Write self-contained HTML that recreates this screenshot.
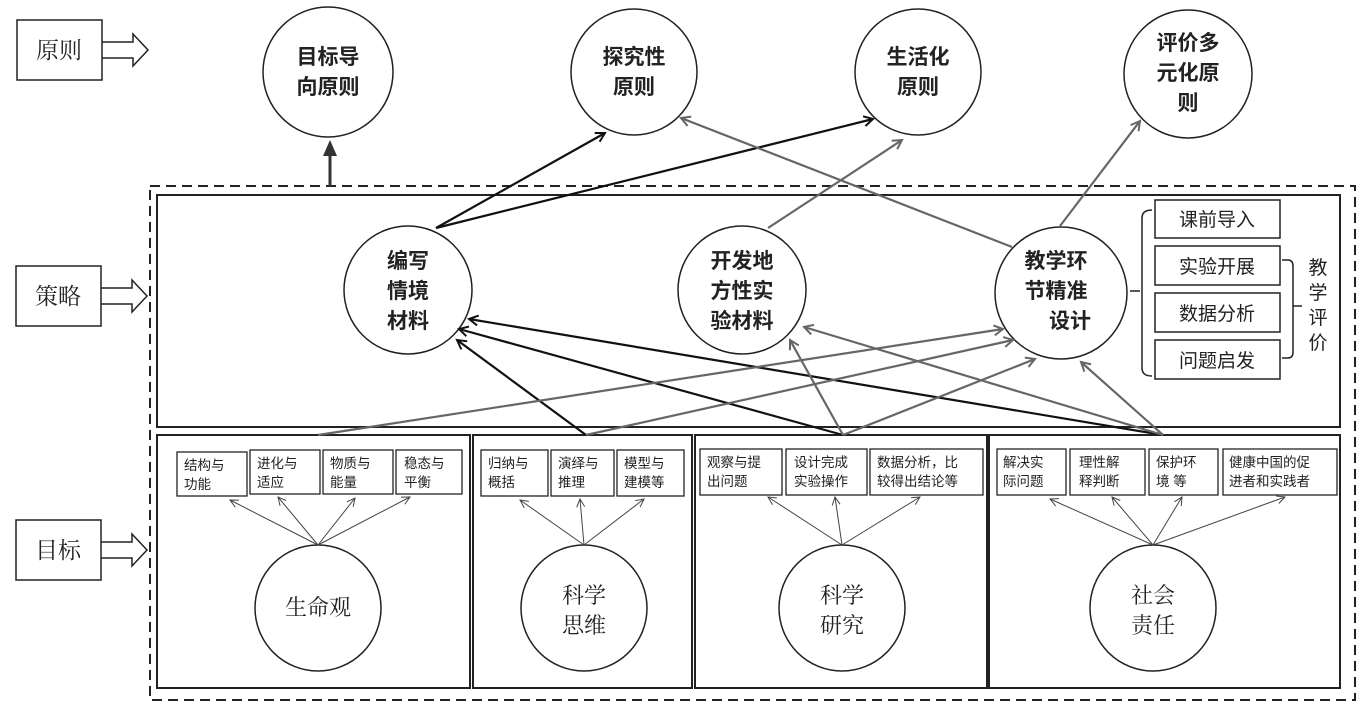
<!DOCTYPE html>
<html><head><meta charset="utf-8"><style>
html,body{margin:0;padding:0;background:#fff}
svg text{font-family:"Liberation Sans","Noto Sans CJK SC",sans-serif;fill:#222}
svg text.s{font-family:"Liberation Serif","Noto Serif CJK SC",serif}
</style></head><body>
<svg width="1362" height="708" viewBox="0 0 1362 708" xmlns="http://www.w3.org/2000/svg">
<defs>
<marker id="ad" markerWidth="12" markerHeight="12" refX="10" refY="6" orient="auto" markerUnits="userSpaceOnUse"><path d="M1,1 L10,6 L1,11" fill="none" stroke="#111" stroke-width="2"/></marker>
<marker id="ag" markerWidth="12" markerHeight="12" refX="10" refY="6" orient="auto" markerUnits="userSpaceOnUse"><path d="M1,1 L10,6 L1,11" fill="none" stroke="#666" stroke-width="2"/></marker>
<marker id="at" markerWidth="10" markerHeight="10" refX="9" refY="5" orient="auto" markerUnits="userSpaceOnUse"><path d="M1,1 L9,5 L1,9" fill="none" stroke="#444" stroke-width="1"/></marker>
</defs>
<g fill="none" stroke="#222" stroke-width="1.5">
<rect x="17" y="20" width="85" height="60"/>
<path d="M102,42 H133 V34 L148,50 L133,66 V58 H102"/>
<rect x="16" y="266" width="85" height="60"/>
<path d="M101,288 H132 V280 L147,296 L132,312 V304 H101"/>
<rect x="16" y="520" width="85" height="60"/>
<path d="M101,542 H132 V534 L147,550 L132,566 V558 H101"/>
<rect x="150" y="186" width="1205" height="514" stroke-dasharray="10,6" stroke-width="2"/>
<rect x="157" y="195" width="1183" height="232" stroke-width="2"/>
<rect x="157" y="435" width="313" height="253" stroke-width="2"/>
<rect x="473" y="435" width="219" height="253" stroke-width="2"/>
<rect x="695" y="435" width="292" height="253" stroke-width="2"/>
<rect x="989" y="435" width="351" height="253" stroke-width="2"/>
<circle cx="328" cy="72" r="65"/>
<circle cx="634" cy="72" r="63"/>
<circle cx="918" cy="72" r="63"/>
<circle cx="1188" cy="74" r="64"/>
<circle cx="408" cy="290" r="64"/>
<circle cx="742" cy="290" r="64"/>
<circle cx="1061" cy="293" r="66"/>
<rect x="1155" y="200" width="125" height="38"/>
<rect x="1155" y="246" width="125" height="39"/>
<rect x="1155" y="293" width="125" height="39"/>
<rect x="1155" y="340" width="125" height="39"/>
<path d="M1130,291 H1140 M1152,210 Q1142,210 1142,218 V368 Q1142,376 1152,376"/>
<path d="M1282,260 H1288 Q1293,260 1293,266 V352 Q1293,358 1288,358 H1282 M1293,306 H1302"/>
<circle cx="318" cy="608" r="63"/>
<circle cx="584" cy="608" r="63"/>
<circle cx="842" cy="608" r="63"/>
<circle cx="1153" cy="608" r="63"/>
</g>
<g fill="none" stroke="#222" stroke-width="1.3">
<rect x="177" y="452" width="70" height="44"/><rect x="250" y="450" width="70" height="44"/><rect x="323" y="450" width="70" height="44"/><rect x="396" y="450" width="66" height="44"/>
<rect x="481" y="450" width="67" height="46"/><rect x="551" y="450" width="63" height="46"/><rect x="617" y="450" width="67" height="46"/>
<rect x="700" y="449" width="82" height="46"/><rect x="786" y="449" width="81" height="46"/><rect x="870" y="449" width="113" height="46"/>
<rect x="997" y="449" width="69" height="46"/><rect x="1070" y="449" width="75" height="46"/><rect x="1149" y="449" width="69" height="46"/><rect x="1223" y="449" width="114" height="46"/>
</g>
<g stroke="#444" stroke-width="1" marker-end="url(#at)">
<line x1="318" y1="545" x2="230" y2="500"/><line x1="318" y1="545" x2="278" y2="497"/><line x1="318" y1="545" x2="355" y2="498"/><line x1="318" y1="545" x2="410" y2="497"/>
<line x1="584" y1="545" x2="520" y2="500"/><line x1="584" y1="545" x2="580" y2="499"/><line x1="584" y1="545" x2="644" y2="499"/>
<line x1="842" y1="545" x2="768" y2="497"/><line x1="842" y1="545" x2="835" y2="497"/><line x1="842" y1="545" x2="920" y2="497"/>
<line x1="1153" y1="545" x2="1050" y2="499"/><line x1="1153" y1="545" x2="1112" y2="497"/><line x1="1153" y1="545" x2="1182" y2="497"/><line x1="1153" y1="545" x2="1285" y2="497"/>
</g>
<line x1="330" y1="186" x2="330" y2="155" stroke="#333" stroke-width="3"/>
<path d="M323,156 L330,140 L337,156 Z" fill="#333"/>
<g stroke="#111" stroke-width="2.2" marker-end="url(#ad)" fill="none">
<line x1="436" y1="228" x2="605" y2="133"/>
<line x1="436" y1="228" x2="873" y2="119"/>
<line x1="1163" y1="435" x2="469" y2="319"/>
<line x1="843" y1="435" x2="459" y2="329"/>
<line x1="586" y1="435" x2="457" y2="340"/>
</g>
<g stroke="#666" stroke-width="2.2" marker-end="url(#ag)" fill="none">
<line x1="768" y1="228" x2="902" y2="140"/>
<line x1="1012" y1="247" x2="681" y2="118"/>
<line x1="1060" y1="226" x2="1140" y2="121"/>
<line x1="318" y1="435" x2="1003" y2="329"/>
<line x1="586" y1="435" x2="1013" y2="340"/>
<line x1="843" y1="435" x2="1035" y2="359"/>
<line x1="1163" y1="435" x2="1081" y2="362"/>
<line x1="1163" y1="435" x2="804" y2="327"/>
<line x1="843" y1="435" x2="790" y2="340"/>
</g>
<g font-size="23" text-anchor="middle">
<text class="s" x="59" y="58">原则</text><text class="s" x="58" y="304">策略</text><text class="s" x="58" y="558">目标</text>
</g>
<g font-size="21" font-weight="bold" text-anchor="middle">
<text x="328" y="64">目标导</text><text x="328" y="94">向原则</text>
<text x="634" y="64">探究性</text><text x="634" y="94">原则</text>
<text x="918" y="64">生活化</text><text x="918" y="94">原则</text>
<text x="1188" y="50">评价多</text><text x="1188" y="80">元化原</text><text x="1188" y="110">则</text>
<text x="408" y="268">编写</text><text x="408" y="298">情境</text><text x="408" y="328">材料</text>
<text x="742" y="268">开发地</text><text x="742" y="298">方性实</text><text x="742" y="328">验材料</text>
<text x="1056" y="268">教学环</text><text x="1056" y="298">节精准</text><text x="1070" y="328">设计</text>
</g>
<g font-size="19" text-anchor="middle">
<text x="1217" y="226">课前导入</text><text x="1217" y="273">实验开展</text><text x="1217" y="320">数据分析</text><text x="1217" y="367">问题启发</text>
<text x="1318" y="274">教</text><text x="1318" y="299">学</text><text x="1318" y="324">评</text><text x="1318" y="349">价</text>
</g>
<g font-size="22" text-anchor="middle">
<text class="s" x="318" y="615">生命观</text>
<text class="s" x="584" y="603">科学</text><text class="s" x="584" y="633">思维</text>
<text class="s" x="842" y="603">科学</text><text class="s" x="842" y="633">研究</text>
<text class="s" x="1153" y="603">社会</text><text class="s" x="1153" y="633">责任</text>
</g>
<g font-size="13.5">
<text x="184" y="470">结构与</text><text x="184" y="489">功能</text>
<text x="257" y="468">进化与</text><text x="257" y="487">适应</text>
<text x="330" y="468">物质与</text><text x="330" y="487">能量</text>
<text x="404" y="468">稳态与</text><text x="404" y="487">平衡</text>
<text x="488" y="468">归纳与</text><text x="488" y="487">概括</text>
<text x="558" y="468">演绎与</text><text x="558" y="487">推理</text>
<text x="624" y="468">模型与</text><text x="624" y="487">建模等</text>
<text x="707" y="467">观察与提</text><text x="707" y="486">出问题</text>
<text x="794" y="467">设计完成</text><text x="794" y="486">实验操作</text>
<text x="877" y="467">数据分析，比</text><text x="877" y="486">较得出结论等</text>
<text x="1003" y="467">解决实</text><text x="1003" y="486">际问题</text>
<text x="1079" y="467">理性解</text><text x="1079" y="486">释判断</text>
<text x="1156" y="467">保护环</text><text x="1156" y="486">境 等</text>
<text x="1229" y="467">健康中国的促</text><text x="1229" y="486">进者和实践者</text>
</g>
</svg>
</body></html>
